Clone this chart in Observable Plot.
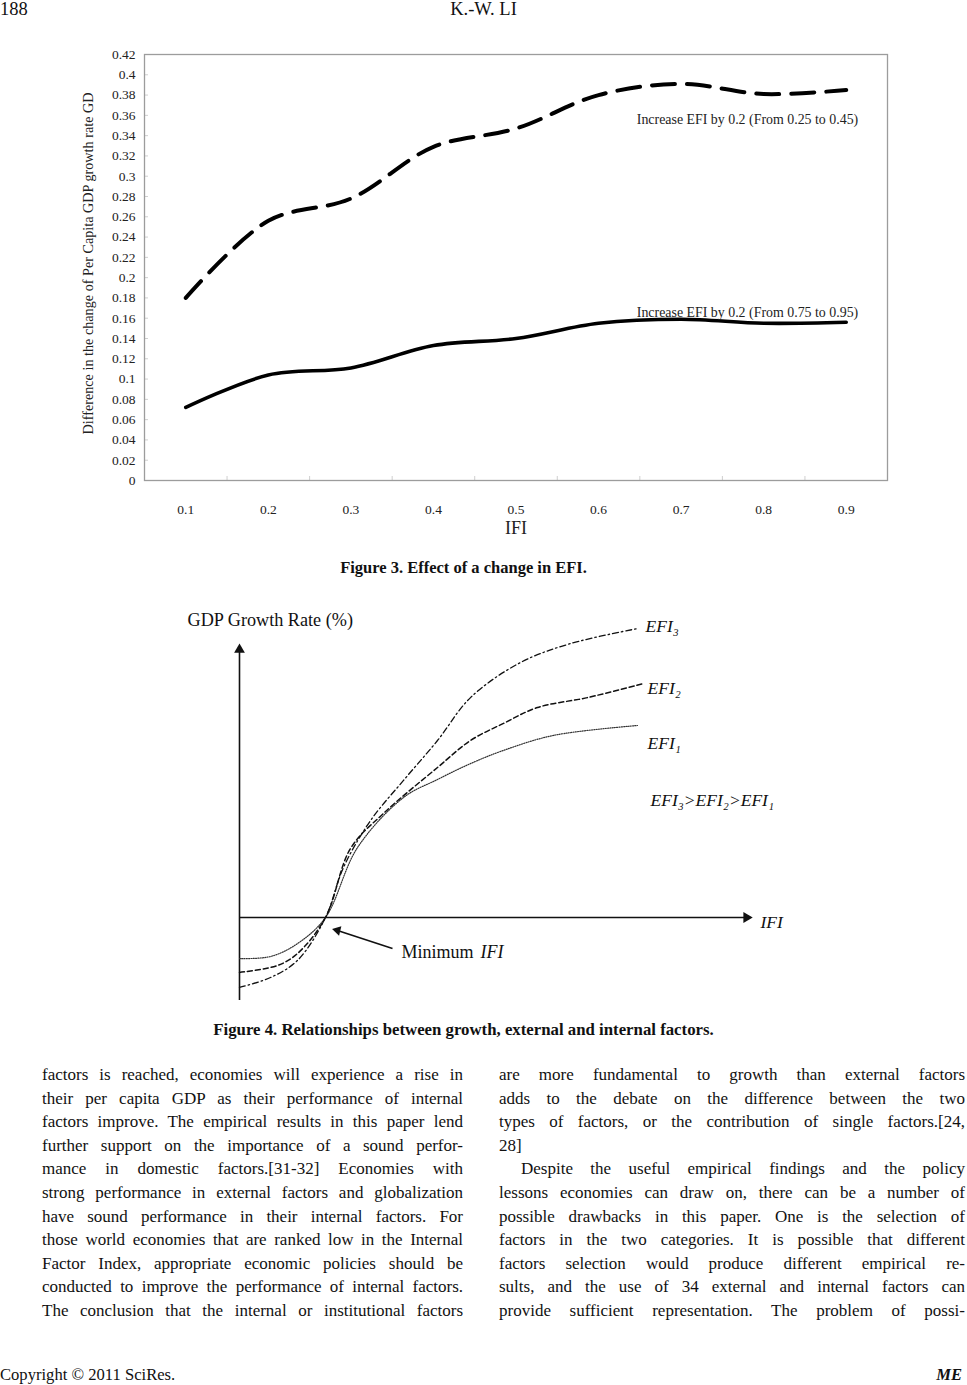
<!DOCTYPE html>
<html><head><meta charset="utf-8">
<script src="https://cdn.jsdelivr.net/npm/d3@7"></script>
<script src="https://cdn.jsdelivr.net/npm/@observablehq/plot@0.6"></script>
<style>
body{margin:0;width:967px;height:1385px;position:relative;background:#fff;font-family:"Liberation Serif","Times New Roman",serif;color:#111;overflow:hidden}
.abs{position:absolute}
.ln{position:absolute;height:24px;line-height:24px;font-size:17px;text-align:justify;text-align-last:justify;white-space:normal;overflow:visible}
.ln.last{text-align-last:left}
.cap{position:absolute;font-weight:bold;text-align:center;width:967px;left:-20px}
</style></head>
<body>
<div class="abs" style="left:0;top:-1px;font-size:18.5px">188</div>
<div class="abs" style="left:0;top:-1px;width:967px;text-align:center;font-size:18.5px">K.-W. LI</div>
<div id="fig3" class="abs" style="left:0;top:40px"></div>
<div class="cap" style="top:558px;font-size:16.5px">Figure 3. Effect of a change in EFI.</div>
<div id="fig4" class="abs" style="left:0;top:600px"></div>
<div class="cap" style="top:1020px;font-size:16.8px">Figure 4. Relationships between growth, external and internal factors.</div>
<div id="body"></div>
<div class="abs" style="left:0;top:1365px;font-size:16.6px">Copyright © 2011 SciRes.</div>
<div class="abs" style="right:5px;top:1365px;font-size:16.6px;font-weight:bold;font-style:italic">ME</div>
<script>
// ---------- Figure 3 data ----------
const ifiValues = [0.1, 0.2, 0.3, 0.4, 0.5, 0.6, 0.7, 0.8, 0.9];
const xTickLabels = ["0.1", "0.2", "0.3", "0.4", "0.5", "0.6", "0.7", "0.8", "0.9"];
const categoryBoundaries = [0.15, 0.25, 0.35, 0.45, 0.55, 0.65, 0.75, 0.85];
const efiLowIncrease = [0.180, 0.256, 0.278, 0.329, 0.347, 0.380, 0.391, 0.381, 0.385];
const efiHighIncrease = [0.072, 0.104, 0.111, 0.133, 0.140, 0.155, 0.159, 0.155, 0.156];
const seriesLabels = ["Increase EFI by 0.2 (From 0.25 to 0.45)", "Increase EFI by 0.2 (From 0.75 to 0.95)"];
const yTickValues = [0, 0.02, 0.04, 0.06, 0.08, 0.1, 0.12, 0.14, 0.16, 0.18, 0.2, 0.22, 0.24, 0.26, 0.28, 0.3, 0.32, 0.34, 0.36, 0.38, 0.4, 0.42];
const yTickLabels = ["0", "0.02", "0.04", "0.06", "0.08", "0.1", "0.12", "0.14", "0.16", "0.18", "0.2", "0.22", "0.24", "0.26", "0.28", "0.3", "0.32", "0.34", "0.36", "0.38", "0.4", "0.42"];
const yAxisTitle = "Difference in the change of Per Capita GDP growth rate GD";
const xAxisTitle = "IFI";

// ---------- Figure 4 data (schematic curves) ----------
const efi1Ifi = [0, 0.62, 1.16, 1.72, 2.36, 3.28, 3.96, 4.62, 5.28, 6.28, 7.96];
const efi1Growth = [-1.37, -1.3, -0.87, 0, 2.33, 4.0, 4.6, 5.13, 5.57, 6.07, 6.4];
const efi2Ifi = [0, 0.76, 1.16, 1.72, 2.22, 2.88, 3.96, 4.62, 5.28, 5.96, 6.96, 8.08];
const efi2Growth = [-1.83, -1.6, -1.2, 0, 2.3, 3.47, 5.0, 5.9, 6.47, 7.0, 7.33, 7.8];
const efi3Ifi = [0, 0.62, 1.16, 1.72, 2.08, 2.62, 3.28, 3.96, 4.62, 5.62, 6.62, 7.96];
const efi3Growth = [-2.33, -2.0, -1.43, 0, 1.67, 3.23, 4.57, 5.9, 7.33, 8.5, 9.13, 9.63];
const efiNames = ["EFI₁", "EFI₂", "EFI₃"];
const orderLabel = "EFI₃>EFI₂>EFI₁";
const growthAxisRange = [-2.77, 8.93];
const ifiAxisRange = [0, 10.14];
const minimumArrow = [{ifi: 3.06, growth: -1.03}, {ifi: 1.96, growth: -0.43}];

// ---------- Body text ----------
const leftColumn = [
  "factors is reached, economies will experience a rise in",
  "their per capita GDP as their performance of internal",
  "factors improve. The empirical results in this paper lend",
  "further support on the importance of a sound perfor-",
  "mance in domestic factors.[31-32] Economies with",
  "strong performance in external factors and globalization",
  "have sound performance in their internal factors. For",
  "those world economies that are ranked low in the Internal",
  "Factor Index, appropriate economic policies should be",
  "conducted to improve the performance of internal factors.",
  "The conclusion that the internal or institutional factors"
];
const rightColumn = [
  "are more fundamental to growth than external factors",
  "adds to the debate on the difference between the two",
  "types of factors, or the contribution of single factors.[24,",
  "28]",
  "Despite the useful empirical findings and the policy",
  "lessons economies can draw on, there can be a number of",
  "possible drawbacks in this paper. One is the selection of",
  "factors in the two categories. It is possible that different",
  "factors selection would produce different empirical re-",
  "sults, and the use of 34 external and internal factors can",
  "provide sufficient representation. The problem of possi-"
];

// ---------- Figure 3 ----------
const rows3 = [
  ...ifiValues.map((v, i) => ({ifi: v, gd: efiLowIncrease[i], series: seriesLabels[0]})),
  ...ifiValues.map((v, i) => ({ifi: v, gd: efiHighIncrease[i], series: seriesLabels[1]}))
];
const lowRows = rows3.filter(d => d.series === seriesLabels[0]);
const highRows = rows3.filter(d => d.series === seriesLabels[1]);

const fig3 = Plot.plot({
  width: 967, height: 510,
  marginLeft: 144, marginRight: 80, marginTop: 14, marginBottom: 70,
  x: {domain: [0.05, 0.95]},
  y: {domain: [0, 0.42]},
  style: {fontFamily: "'Liberation Serif', serif", fontSize: "13.5px", color: "#222", background: "transparent", overflow: "visible"},
  marks: [
    Plot.axisY({ticks: yTickValues, tickFormat: d => yTickLabels[yTickValues.indexOf(d)], tickSize: 0, tickPadding: 9, label: null, fontSize: 13.5}),
    Plot.axisY({ticks: yTickValues, tickFormat: () => "", tickSize: 4, dx: 4, label: null, stroke: "#cfcfcf"}),
    Plot.axisX({ticks: ifiValues, tickFormat: d => xTickLabels[ifiValues.indexOf(d)], tickSize: 0, tickPadding: 24, label: null, fontSize: 13.5}),
    Plot.axisX({ticks: categoryBoundaries, tickFormat: () => "", tickSize: 4, dy: -4, label: null, stroke: "#cfcfcf"}),
    Plot.frame({stroke: "#9c9c9c", strokeWidth: 1.3}),
    Plot.line(lowRows, {x: "ifi", y: "gd", curve: "catmull-rom", stroke: "#000", strokeWidth: 4, strokeDasharray: "23,12"}),
    Plot.line(highRows, {x: "ifi", y: "gd", curve: "catmull-rom", stroke: "#000", strokeWidth: 3.6}),
    Plot.text(lowRows.slice(-1), {x: "ifi", y: "gd", text: "series", textAnchor: "end", dx: 12, dy: 30, fontSize: 13.9, fill: "#222"}),
    Plot.text(highRows.slice(-1), {x: "ifi", y: "gd", text: "series", textAnchor: "end", dx: 12, dy: -10, fontSize: 13.9, fill: "#222"}),
    Plot.text([yAxisTitle], {frameAnchor: "left", text: d => d, rotate: -90, dx: -56, dy: -4, textAnchor: "middle", fontSize: 14.2, fill: "#222"}),
    Plot.text([xAxisTitle], {frameAnchor: "bottom", text: d => d, dy: 53, fontSize: 18, fill: "#222"})
  ]
});
document.getElementById("fig3").appendChild(fig3);

// ---------- Figure 4 ----------
const curves = [
  ...efi1Ifi.map((v, i) => ({ifi: v, growth: efi1Growth[i], efi: efiNames[0]})),
  ...efi2Ifi.map((v, i) => ({ifi: v, growth: efi2Growth[i], efi: efiNames[1]})),
  ...efi3Ifi.map((v, i) => ({ifi: v, growth: efi3Growth[i], efi: efiNames[2]}))
];
const c1 = curves.filter(d => d.efi === efiNames[0]);
const c2 = curves.filter(d => d.efi === efiNames[1]);
const c3 = curves.filter(d => d.efi === efiNames[2]);
const serif = "'Liberation Serif', serif";

const fig4 = Plot.plot({
  width: 967, height: 410,
  marginLeft: 239, marginRight: 215, marginTop: 17, marginBottom: 3,
  x: {domain: [0, 10.26], axis: null},
  y: {domain: [-3, 10], axis: null},
  style: {fontFamily: serif, fontSize: "17.5px", color: "#111", background: "transparent", overflow: "visible"},
  marks: [
    Plot.ruleX([0], {y1: growthAxisRange[0], y2: growthAxisRange[1], stroke: "#111", strokeWidth: 1.6}),
    Plot.dot([growthAxisRange[1]], {x: 0, y: d => d, symbol: "triangle", r: 4, fill: "#111", stroke: "none"}),
    Plot.ruleY([0], {x1: ifiAxisRange[0], x2: ifiAxisRange[1], stroke: "#111", strokeWidth: 1.6}),
    Plot.dot([ifiAxisRange[1]], {x: d => d, y: 0, symbol: "triangle", rotate: 90, r: 4, fill: "#111", stroke: "none"}),
    Plot.line(c1, {x: "ifi", y: "growth", curve: "catmull-rom", stroke: "#333", strokeWidth: 1.2, strokeDasharray: "1,1.3"}),
    Plot.line(c2, {x: "ifi", y: "growth", curve: "catmull-rom", stroke: "#111", strokeWidth: 1.5, strokeDasharray: "5,3"}),
    Plot.line(c3, {x: "ifi", y: "growth", curve: "catmull-rom", stroke: "#111", strokeWidth: 1.3, strokeDasharray: "6,3,1.5,3"}),
    Plot.text(c3.slice(-1), {x: "ifi", y: "growth", text: "efi", textAnchor: "start", dx: 8, dy: -2, fontStyle: "italic", fontSize: 17.5}),
    Plot.text(c2.slice(-1), {x: "ifi", y: "growth", text: "efi", textAnchor: "start", dx: 4, dy: 5, fontStyle: "italic", fontSize: 17.5}),
    Plot.text(c1.slice(-1), {x: "ifi", y: "growth", text: "efi", textAnchor: "start", dx: 10, dy: 18, fontStyle: "italic", fontSize: 17.5}),
    Plot.text(c1.slice(-1), {x: "ifi", y: "growth", text: () => orderLabel, textAnchor: "start", dx: 13, dy: 75, fontStyle: "italic", fontSize: 17.5}),
    Plot.text([growthAxisRange[1]], {x: 0, y: d => d, text: () => "GDP Growth Rate (%)", textAnchor: "start", dx: -52, dy: -29, fontSize: 18.2}),
    Plot.text([ifiAxisRange[1]], {x: d => d, y: 0, text: () => "IFI", textAnchor: "start", dx: 14, dy: 5, fontStyle: "italic", fontSize: 17.5}),
    Plot.link([minimumArrow], {x1: d => d[0].ifi, y1: d => d[0].growth, x2: d => d[1].ifi, y2: d => d[1].growth, stroke: "#111", strokeWidth: 1.6}),
    Plot.dot([minimumArrow[1]], {x: "ifi", y: "growth", symbol: "triangle", rotate: -76, r: 3.6, fill: "#111", stroke: "none"}),
    Plot.text([minimumArrow[0]], {x: "ifi", y: "growth", text: () => "Minimum", textAnchor: "start", dx: 9, dy: 4, fontSize: 18}),
    Plot.text([minimumArrow[0]], {x: "ifi", y: "growth", text: () => "IFI", textAnchor: "start", dx: 88, dy: 4, fontStyle: "italic", fontSize: 18})
  ]
});
document.getElementById("fig4").appendChild(fig4);

// ---------- Body text ----------
const bodyDiv = document.getElementById("body");
function addColumn(lines, left, width, lastIdx, indentIdx) {
  lines.forEach((t, i) => {
    const d = document.createElement("div");
    d.className = "ln" + (lastIdx.includes(i) ? " last" : "");
    const ind = indentIdx.includes(i) ? 22 : 0;
    d.style.left = (left + ind) + "px";
    d.style.width = (width - ind) + "px";
    d.style.top = (1063 + i * 23.6) + "px";
    d.textContent = t;
    bodyDiv.appendChild(d);
  });
}
addColumn(leftColumn, 42, 421, [], []);
addColumn(rightColumn, 499, 466, [3], [4]);
</script>
</body></html>
